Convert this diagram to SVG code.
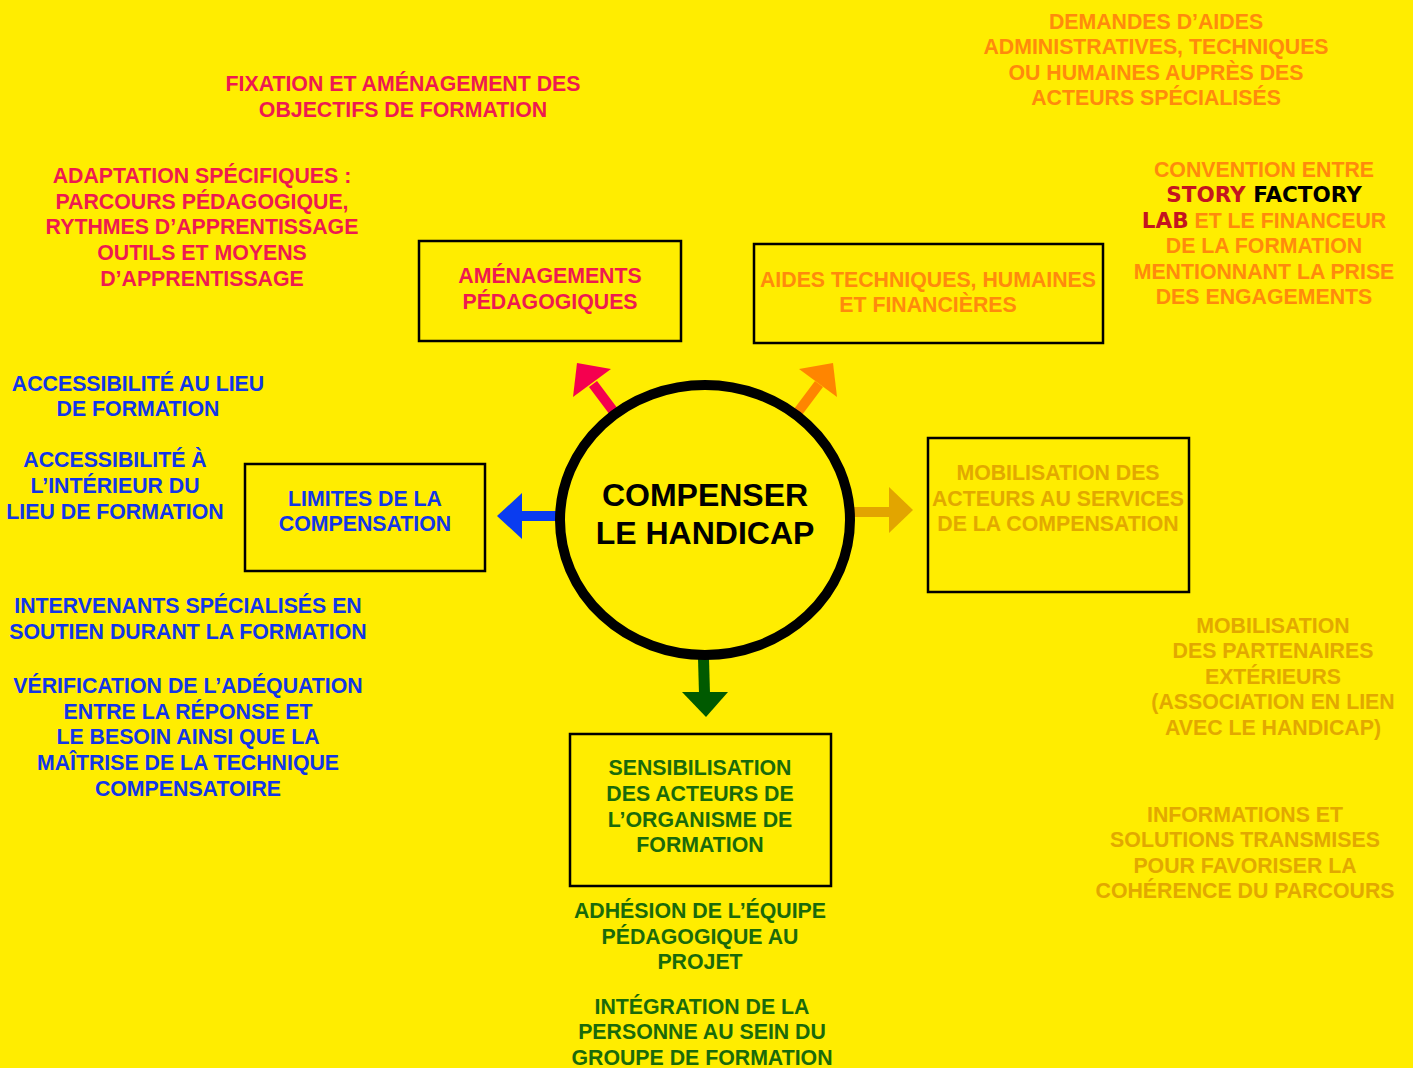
<svg xmlns="http://www.w3.org/2000/svg" width="1413" height="1068" viewBox="0 0 1413 1068">
<style>
text{font-family:"Liberation Sans",Arial,sans-serif;font-weight:bold;font-size:21.3px;text-anchor:middle}
.pk{fill:#EE1A50}.or{fill:#FF8A0C}.gd{fill:#E2A800}.bl{fill:#1236E8}.gr{fill:#1A6A0A}
.dr{fill:#C41420;font-family:"DejaVu Sans",sans-serif;font-size:21.5px}.bk{fill:#000}
.fb{font-family:"DejaVu Sans",sans-serif;font-size:21.5px}
.big{font-size:32px}
.box{fill:none;stroke:#000;stroke-width:2.5}
</style>
<rect width="1413" height="1068" fill="#FFED00"/>
<g id="connectors">
<path d="M614,412 L593,384" stroke="#F5004F" stroke-width="10" fill="none"/>
<polygon points="577,363 611,369 573,397" fill="#F5004F"/>
<path d="M798,412 L819,384" stroke="#FF8500" stroke-width="10" fill="none"/>
<polygon points="833,363 837,397 799,369" fill="#FF8500"/>
<rect x="520" y="511" width="38" height="10" fill="#0A3CF0"/>
<polygon points="497,516 522,493 522,539" fill="#0A3CF0"/>
<rect x="852" y="507" width="39" height="10" fill="#E2A500"/>
<polygon points="913,510 889,487 889,533" fill="#E2A500"/>
<path d="M703.5,658 L704.5,694" stroke="#005A00" stroke-width="11" fill="none"/>
<polygon points="682,692 728,692 706,717" fill="#005A00"/>
</g>
<g id="center">
<ellipse cx="705" cy="520" rx="145" ry="135" fill="#FFED00" stroke="#000" stroke-width="10"/>
<text x="705" y="506" class="bk big">COMPENSER</text>
<text x="705" y="544" class="bk big">LE HANDICAP</text>
</g>
<g id="amenagements">
<rect x="419" y="241" width="262" height="100" class="box"/>
<text class="pk" x="550" y="283">AMÉNAGEMENTS</text>
<text class="pk" x="550" y="309">PÉDAGOGIQUES</text>
</g>
<g id="aides">
<rect x="754" y="244" width="349" height="99" class="box"/>
<text class="or" x="928" y="287">AIDES TECHNIQUES, HUMAINES</text>
<text class="or" x="928" y="312">ET FINANCIÈRES</text>
</g>
<g id="limites">
<rect x="245" y="464" width="240" height="107" class="box"/>
<text class="bl" x="365" y="506">LIMITES DE LA</text>
<text class="bl" x="365" y="531">COMPENSATION</text>
</g>
<g id="mobilisation">
<rect x="928" y="438" width="261" height="154" class="box"/>
<text class="gd" x="1058" y="480">MOBILISATION DES</text>
<text class="gd" x="1058" y="506">ACTEURS AU SERVICES</text>
<text class="gd" x="1058" y="531">DE LA COMPENSATION</text>
</g>
<g id="sensibilisation">
<rect x="570" y="734" width="261" height="152" class="box"/>
<text class="gr" x="700" y="775">SENSIBILISATION</text>
<text class="gr" x="700" y="801">DES ACTEURS DE</text>
<text class="gr" x="700" y="827">L’ORGANISME DE</text>
<text class="gr" x="700" y="852">FORMATION</text>
</g>
<g id="notes-pink">
<text class="pk" x="403" y="91">FIXATION ET AMÉNAGEMENT DES</text>
<text class="pk" x="403" y="117">OBJECTIFS DE FORMATION</text>
<text class="pk" x="202" y="183">ADAPTATION SPÉCIFIQUES :</text>
<text class="pk" x="202" y="209">PARCOURS PÉDAGOGIQUE,</text>
<text class="pk" x="202" y="234">RYTHMES D’APPRENTISSAGE</text>
<text class="pk" x="202" y="260">OUTILS ET MOYENS</text>
<text class="pk" x="202" y="286">D’APPRENTISSAGE</text>
</g>
<g id="notes-orange">
<text class="or" x="1156" y="29">DEMANDES D’AIDES</text>
<text class="or" x="1156" y="54">ADMINISTRATIVES, TECHNIQUES</text>
<text class="or" x="1156" y="80">OU HUMAINES AUPRÈS DES</text>
<text class="or" x="1156" y="105">ACTEURS SPÉCIALISÉS</text>
<text class="or" x="1264" y="177">CONVENTION ENTRE</text>
<text x="1264" y="202"><tspan class="dr">STORY</tspan><tspan class="bk fb"> FACTORY</tspan></text>
<text x="1264" y="228"><tspan class="dr">LAB</tspan><tspan class="or"> ET LE FINANCEUR</tspan></text>
<text class="or" x="1264" y="253">DE LA FORMATION</text>
<text class="or" x="1264" y="279">MENTIONNANT LA PRISE</text>
<text class="or" x="1264" y="304">DES ENGAGEMENTS</text>
</g>
<g id="notes-blue">
<text class="bl" x="138" y="391">ACCESSIBILITÉ AU LIEU</text>
<text class="bl" x="138" y="416">DE FORMATION</text>
<text class="bl" x="115" y="467">ACCESSIBILITÉ À</text>
<text class="bl" x="115" y="493">L’INTÉRIEUR DU</text>
<text class="bl" x="115" y="519">LIEU DE FORMATION</text>
<text class="bl" x="188" y="613">INTERVENANTS SPÉCIALISÉS EN</text>
<text class="bl" x="188" y="639">SOUTIEN DURANT LA FORMATION</text>
<text class="bl" x="188" y="693">VÉRIFICATION DE L’ADÉQUATION</text>
<text class="bl" x="188" y="719">ENTRE LA RÉPONSE ET</text>
<text class="bl" x="188" y="744">LE BESOIN AINSI QUE LA</text>
<text class="bl" x="188" y="770">MAÎTRISE DE LA TECHNIQUE</text>
<text class="bl" x="188" y="796">COMPENSATOIRE</text>
</g>
<g id="notes-gold">
<text class="gd" x="1273" y="633">MOBILISATION</text>
<text class="gd" x="1273" y="658">DES PARTENAIRES</text>
<text class="gd" x="1273" y="684">EXTÉRIEURS</text>
<text class="gd" x="1273" y="709">(ASSOCIATION EN LIEN</text>
<text class="gd" x="1273" y="735">AVEC LE HANDICAP)</text>
<text class="gd" x="1245" y="822">INFORMATIONS ET</text>
<text class="gd" x="1245" y="847">SOLUTIONS TRANSMISES</text>
<text class="gd" x="1245" y="873">POUR FAVORISER LA</text>
<text class="gd" x="1245" y="898">COHÉRENCE DU PARCOURS</text>
</g>
<g id="notes-green">
<text class="gr" x="700" y="918">ADHÉSION DE L’ÉQUIPE</text>
<text class="gr" x="700" y="944">PÉDAGOGIQUE AU</text>
<text class="gr" x="700" y="969">PROJET</text>
<text class="gr" x="702" y="1014">INTÉGRATION DE LA</text>
<text class="gr" x="702" y="1039">PERSONNE AU SEIN DU</text>
<text class="gr" x="702" y="1065">GROUPE DE FORMATION</text>
</g>
</svg>
